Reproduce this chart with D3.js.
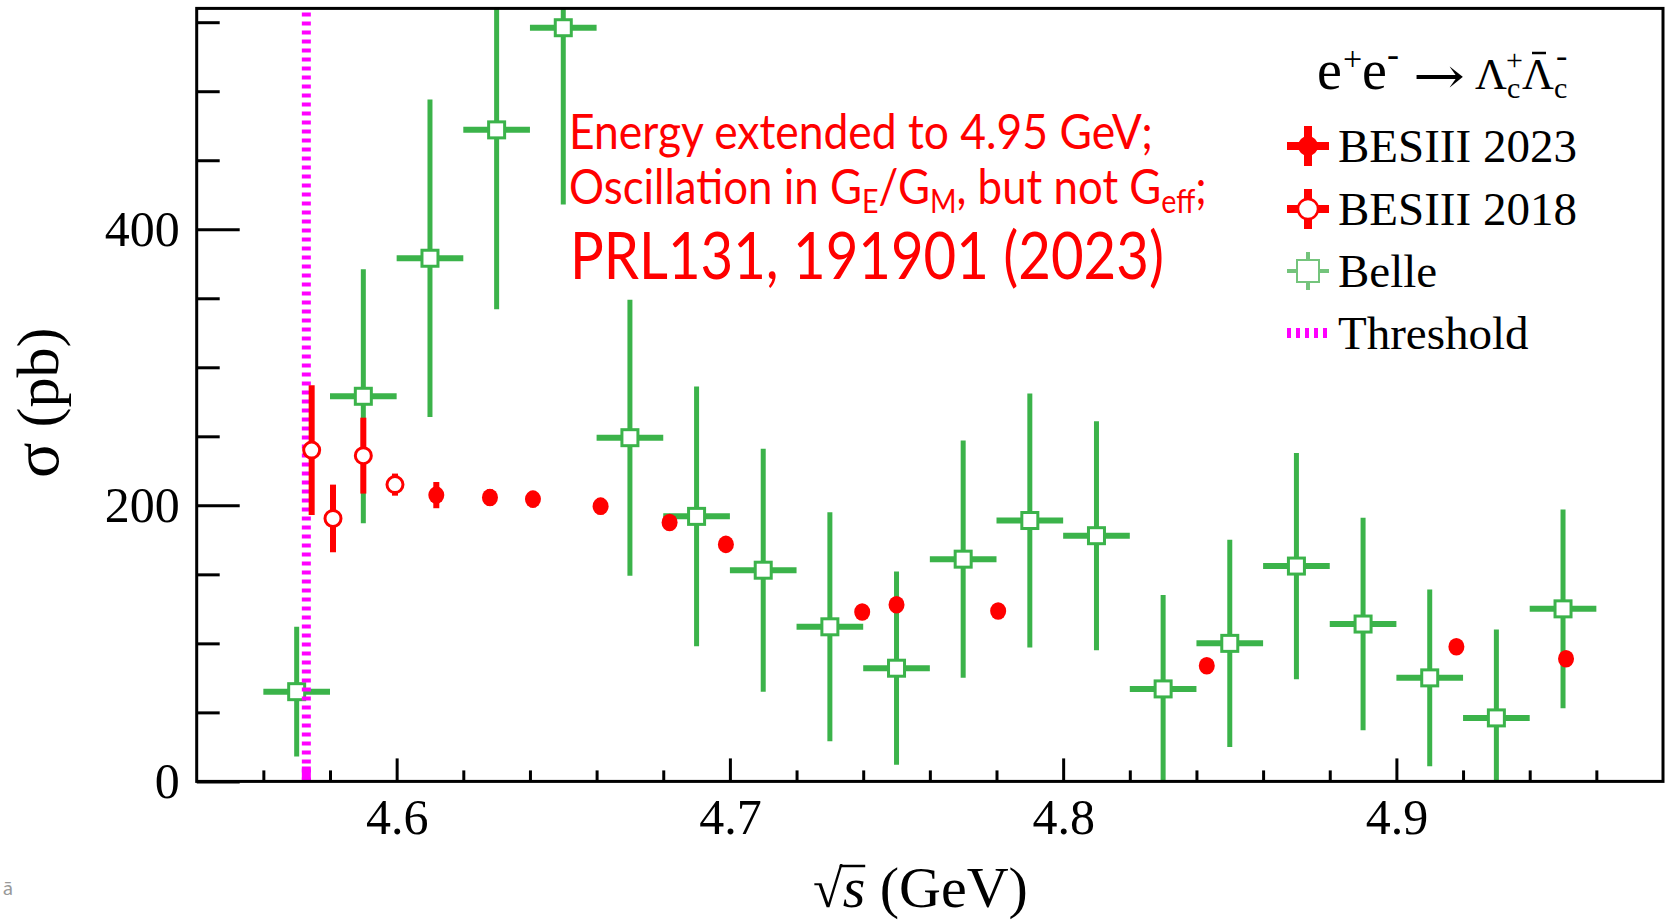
<!DOCTYPE html>
<html><head><meta charset="utf-8">
<script src="https://cdn.jsdelivr.net/npm/d3@7"></script>
<style>body{margin:0;background:#fff;} svg{display:block;}</style>
</head><body>
<svg id="c" width="1667" height="920"></svg>
<script>
// ---------------- data ----------------
const belleE     = [4.57,4.59,4.61,4.63,4.65,4.67,4.69,4.71,4.73,4.75,4.77,4.79,4.81,4.83,4.85,4.87,4.89,4.91,4.93,4.95];
const belleSigma = [65,279,379,472,546,249,192,153,112,82,161,189,178,67,100,156,114,75,46,125];
const belleErr   = [47,92,115,130,128,100,94,88,83,70,86,92,83,68,75,82,77,64,64,72];
const belleHalfBin = 0.01;
const bes18E     = [4.5745,4.5809,4.5900,4.5995];
const bes18Sigma = [240,190.5,236,215];
const bes18Err   = [47,24.5,27.5,8];
const bes23E     = [4.6119,4.6280,4.6409,4.6612,4.6819,4.6988,4.7397,4.7500,4.7805,4.8431,4.9180,4.9509];
const bes23Sigma = [207.4,205.7,204.5,199.4,187.6,171.7,122.7,128,123.4,83.8,97.5,88.9];
const bes23Err   = [9.5,6,6,6,5,5,4,4,4,4,4,4];
const thresholdE = 4.5729;
const xMajorTicks = [4.6,4.7,4.8,4.9];
const xMinorTicks = [4.56,4.58,4.62,4.64,4.66,4.68,4.72,4.74,4.76,4.78,4.82,4.84,4.86,4.88,4.92,4.94,4.96];
const yMajorTicks = [0,200,400];
const yMinorTicks = [50,100,150,250,300,350,450,500,550];
const legendLabels = ["BESIII 2023","BESIII 2018","Belle","Threshold"];
const noteLines = ["Energy extended to 4.95 GeV;","PRL131, 191901 (2023)"];

// ---------------- layout ----------------
const L = 196.7, R = 1663, T = 8.4, B = 781.4;
const RED = "#ff0000", GREEN = "#3bb34a", LGREEN = "#74c47c", MAG = "#ff00ff";
const serif = "'Liberation Serif','Times New Roman',serif";
const sans = "Lato,'Open Sans',sans-serif";

const svg = d3.select("#c");
const x = d3.scaleLinear().domain([4.54, 4.98]).range([L, R]);
const y = d3.scaleLinear().domain([0, 560]).range([B, T]);

svg.append("defs").append("clipPath").attr("id","clip")
  .append("rect").attr("x",L).attr("y",T).attr("width",R-L).attr("height",B-T);

function fitX(el, x0, target){
  const w = el.node().getBBox().width;
  el.attr("transform",`translate(${x0},0) scale(${target/w},1) translate(${-x0},0)`);
}

// axes
function styleAxis(g){
  g.select(".domain").remove();
  g.selectAll(".tick line").attr("stroke","#000").attr("stroke-width",3);
  g.selectAll(".tick text").attr("fill","#000").style("font-family",serif).style("font-size","50px");
}
svg.append("g").attr("transform",`translate(0,${B})`)
  .call(d3.axisBottom(x).tickValues(xMajorTicks).tickSize(-23).tickPadding(17).tickFormat(d3.format(".1f")))
  .call(styleAxis);
svg.append("g").attr("transform",`translate(0,${B})`)
  .call(d3.axisBottom(x).tickValues(xMinorTicks).tickSize(-11).tickFormat(""))
  .call(styleAxis);
svg.append("g").attr("transform",`translate(${L},0)`)
  .call(d3.axisLeft(y).tickValues(yMajorTicks).tickSize(-43).tickPadding(17).tickFormat(d3.format("d")))
  .call(styleAxis);
svg.append("g").attr("transform",`translate(${L},0)`)
  .call(d3.axisLeft(y).tickValues(yMinorTicks).tickSize(-23).tickFormat(""))
  .call(styleAxis);

const plot = svg.append("g").attr("clip-path","url(#clip)");

// Belle
const belle = belleE.map((e,i)=>({e, s:belleSigma[i], err:belleErr[i]}));
const bg = plot.append("g");
bg.selectAll(".bv").data(belle).join("line")
  .attr("x1",d=>x(d.e)).attr("x2",d=>x(d.e))
  .attr("y1",d=>y(Math.max(0,d.s-d.err))).attr("y2",d=>y(d.s+d.err))
  .attr("stroke",GREEN).attr("stroke-width",5);
bg.selectAll(".bh").data(belle).join("line")
  .attr("x1",d=>x(d.e-belleHalfBin)).attr("x2",d=>x(d.e+belleHalfBin))
  .attr("y1",d=>y(d.s)).attr("y2",d=>y(d.s))
  .attr("stroke",GREEN).attr("stroke-width",6);
bg.selectAll(".bs").data(belle).join("rect")
  .attr("x",d=>x(d.e)-8).attr("y",d=>y(d.s)-8).attr("width",16).attr("height",16)
  .attr("fill","#fff").attr("stroke",GREEN).attr("stroke-width",3);

// Threshold
plot.append("line").attr("x1",x(thresholdE)).attr("x2",x(thresholdE))
  .attr("y1",B).attr("y2",T).attr("stroke",MAG).attr("stroke-width",9)
  .attr("stroke-dasharray","4 5");
plot.append("line").attr("x1",x(thresholdE)).attr("x2",x(thresholdE))
  .attr("y1",B).attr("y2",B-15).attr("stroke",MAG).attr("stroke-width",9);

// BESIII 2018
const b18 = bes18E.map((e,i)=>({e, s:bes18Sigma[i], err:bes18Err[i]}));
const rg = plot.append("g");
rg.selectAll(".r18v").data(b18).join("line")
  .attr("x1",d=>x(d.e)).attr("x2",d=>x(d.e))
  .attr("y1",d=>y(d.s-d.err)).attr("y2",d=>y(d.s+d.err))
  .attr("stroke",RED).attr("stroke-width",6);
rg.selectAll(".r18c").data(b18).join("circle")
  .attr("cx",d=>x(d.e)).attr("cy",d=>y(d.s)).attr("r",8)
  .attr("fill","#fff").attr("stroke",RED).attr("stroke-width",3);

// BESIII 2023
const b23 = bes23E.map((e,i)=>({e, s:bes23Sigma[i], err:bes23Err[i]}));
rg.selectAll(".r23v").data(b23).join("line")
  .attr("x1",d=>x(d.e)).attr("x2",d=>x(d.e))
  .attr("y1",d=>y(d.s-d.err)).attr("y2",d=>y(d.s+d.err))
  .attr("stroke",RED).attr("stroke-width",6);
rg.selectAll(".r23c").data(b23).join("ellipse")
  .attr("cx",d=>x(d.e)).attr("cy",d=>y(d.s)).attr("rx",8).attr("ry",8.8)
  .attr("fill",RED);

// frame
svg.append("rect").attr("x",L).attr("y",T).attr("width",R-L).attr("height",B-T)
  .attr("fill","none").attr("stroke","#000").attr("stroke-width",3);

// axis titles
const xt = svg.append("text").attr("x",813).attr("y",907)
  .style("font-family",serif).style("font-size","58px").attr("fill","#000");
xt.append("tspan").text("√").style("font-size","54px");
xt.append("tspan").text("s").style("font-style","italic");
xt.append("tspan").text(" (GeV)");
{
  const ext0 = xt.node().getExtentOfChar(0);
  const ext1 = xt.node().getExtentOfChar(1);
  svg.append("line").attr("x1",ext0.x+ext0.width-3).attr("x2",ext1.x+ext1.width)
    .attr("y1",866).attr("y2",866).attr("stroke","#000").attr("stroke-width",2.5);
}
const yt = svg.append("text").attr("transform","translate(58,478) rotate(-90)")
  .style("font-family",serif).style("font-size","60px").attr("fill","#000");
yt.append("tspan").text("σ").style("font-size","66px");
yt.append("tspan").text(" (pb)");

// legend
const lg = svg.append("g");
const lx = 1308, ly = [146,209,271,333];
function t(xp,yp,str,size){
  return lg.append("text").attr("x",xp).attr("y",yp).text(str)
    .style("font-family",serif).style("font-size",size+"px").attr("fill","#000");
}
// header  e+e- -> Lambda_c^+ anti-Lambda_c^-
t(1317,89,"e",56);
t(1343,70,"+",34);
t(1362,89,"e",56);
t(1387,66,"-",36);
const arr = t(1413,93,"→",50).style("font-family","'DejaVu Serif','DejaVu Sans',serif");
fitX(arr,1413,52);
t(1475,89,"Λ",44);
t(1506,70,"+",30);
t(1507,98,"c",30);
t(1522,89,"Λ",44);
lg.append("line").attr("x1",1532).attr("x2",1546).attr("y1",53).attr("y2",53).attr("stroke","#000").attr("stroke-width",2.5);
t(1556,67,"-",34);
t(1554,98,"c",30);

// entries
legendLabels.forEach((lab,i)=>{
  t(1338, ly[i]+16, lab, 47);
});
// BESIII 2023 marker
lg.append("line").attr("x1",lx-21).attr("x2",lx+21).attr("y1",ly[0]).attr("y2",ly[0]).attr("stroke",RED).attr("stroke-width",8);
lg.append("line").attr("x1",lx).attr("x2",lx).attr("y1",ly[0]-20).attr("y2",ly[0]+20).attr("stroke",RED).attr("stroke-width",8);
lg.append("circle").attr("cx",lx).attr("cy",ly[0]).attr("r",10).attr("fill",RED);
// BESIII 2018 marker
lg.append("line").attr("x1",lx-21).attr("x2",lx+21).attr("y1",ly[1]).attr("y2",ly[1]).attr("stroke",RED).attr("stroke-width",8);
lg.append("line").attr("x1",lx).attr("x2",lx).attr("y1",ly[1]-20).attr("y2",ly[1]+20).attr("stroke",RED).attr("stroke-width",8);
lg.append("circle").attr("cx",lx).attr("cy",ly[1]).attr("r",10).attr("fill","#fff").attr("stroke",RED).attr("stroke-width",2.5);
// Belle marker
lg.append("line").attr("x1",lx-21).attr("x2",lx+21).attr("y1",ly[2]).attr("y2",ly[2]).attr("stroke",LGREEN).attr("stroke-width",4);
lg.append("line").attr("x1",lx).attr("x2",lx).attr("y1",ly[2]-19).attr("y2",ly[2]+19).attr("stroke",LGREEN).attr("stroke-width",4);
lg.append("rect").attr("x",lx-11).attr("y",ly[2]-11).attr("width",22).attr("height",22).attr("fill","#fff").attr("stroke",LGREEN).attr("stroke-width",2);
// Threshold marker
lg.append("line").attr("x1",lx-21).attr("x2",lx+21).attr("y1",ly[3]).attr("y2",ly[3]).attr("stroke",MAG).attr("stroke-width",10).attr("stroke-dasharray","4 5");

// red annotation
const ann = svg.append("g").attr("fill",RED).style("font-family",sans);
const a1 = ann.append("text").attr("x",569).attr("y",149).style("font-size","49px").text(noteLines[0]);
fitX(a1,569,584);
const a2 = ann.append("text").attr("x",569).attr("y",204).style("font-size","49px");
a2.append("tspan").text("Oscillation in G");
a2.append("tspan").text("E").style("font-size","32px").attr("dy",9);
a2.append("tspan").text("/G").attr("dy",-9);
a2.append("tspan").text("M").style("font-size","32px").attr("dy",9);
a2.append("tspan").text(", but not G").attr("dy",-9);
a2.append("tspan").text("eff").style("font-size","32px").attr("dy",9);
a2.append("tspan").text(";").attr("dy",-9);
fitX(a2,569,638);
const a3 = ann.append("text").attr("x",570).attr("y",279).style("font-size","66px").text(noteLines[1]);
fitX(a3,570,594);

// stray cropped glyph at bottom-left
svg.append("text").attr("x",3).attr("y",895).text("ā").attr("fill","#999")
  .style("font-family",sans).style("font-size","20px");
</script>
</body></html>
